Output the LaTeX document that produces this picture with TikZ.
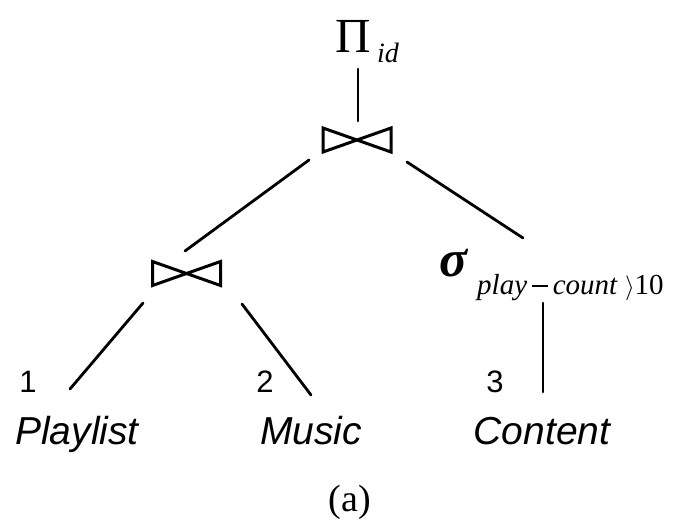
\documentclass[tikz,border=0pt]{standalone}
\usepackage{fontspec}
\setmainfont{Liberation Serif}
\setsansfont{Liberation Sans}
\begin{document}
\begin{tikzpicture}[x=1pt,y=-1pt,
  edge/.style={line width=2.8pt, line cap=round},
  joinbox/.style={minimum width=68pt, minimum height=24pt, inner sep=0pt, outer sep=0pt},
  bowtie/.style={line width=3pt, line join=miter},
  relname/.style={inner sep=0pt, anchor=base, font=\sffamily\itshape\fontsize{39}{41}\selectfont},
  idx/.style={inner sep=0pt, anchor=base, font=\sffamily\fontsize{31}{33}\selectfont},
  txt/.style={inner sep=0pt, anchor=base west}]
\useasboundingbox (0,0) rectangle (677,523);

% projection
\node[txt, font=\fontsize{49}{50}\selectfont] (pi) at (335,52) {Π};
\node[txt, font=\itshape\fontsize{28}{30}\selectfont] (pisub) at (377,62) {id};

% join operators
\node[joinbox] (j1) at (357,140) {};
\draw[bowtie] (j1.north west) -- (j1.south east) -- (j1.north east) -- (j1.south west) -- cycle;
\node[joinbox] (j2) at (186.5,273.5) {};
\draw[bowtie] (j2.north west) -- (j2.south east) -- (j2.north east) -- (j2.south west) -- cycle;

% selection
\node[txt, font=\bfseries\itshape\fontsize{52}{54}\selectfont] (sigma) at (439,276) {σ};
\node[txt, font=\fontsize{29}{30}\selectfont] (cond) at (477,294)
  {\itshape play\,\raisebox{0.25em}{\rule{0.55em}{0.045em}}\,count\/ \upshape$\rangle$10};

% relations
\node[relname] (playlist) at (77,444) {Playlist};
\node[relname] (music) at (311,444) {Music};
\node[relname] (content) at (542,444) {Content};
\node[idx] (n1) at (28,392) {1};
\node[idx] (n2) at (265,392) {2};
\node[idx] (n3) at (495,392) {3};

% caption
\node[inner sep=0pt, anchor=base, font=\fontsize{38}{40}\selectfont] (cap) at (350,511) {(a)};

% connector end points
\coordinate (pi-b) at (358,69);
\coordinate (j1-t) at (358,121);
\coordinate (j1-l) at (309,160);
\coordinate (j1-r) at (407,162);
\coordinate (j2-t) at (185,251);
\coordinate (j2-l) at (143,303);
\coordinate (j2-r) at (242,304);
\coordinate (sg-t) at (523,238);
\coordinate (sg-b) at (543,303);
\coordinate (pl-t) at (70,389);
\coordinate (mu-t) at (311,395);
\coordinate (co-t) at (543,392);

\draw[edge] (pi-b) -- (j1-t);
\draw[edge] (j1-l) -- (j2-t);
\draw[edge] (j1-r) -- (sg-t);
\draw[edge] (j2-l) -- (pl-t);
\draw[edge] (j2-r) -- (mu-t);
\draw[edge] (sg-b) -- (co-t);
\end{tikzpicture}
\end{document}
